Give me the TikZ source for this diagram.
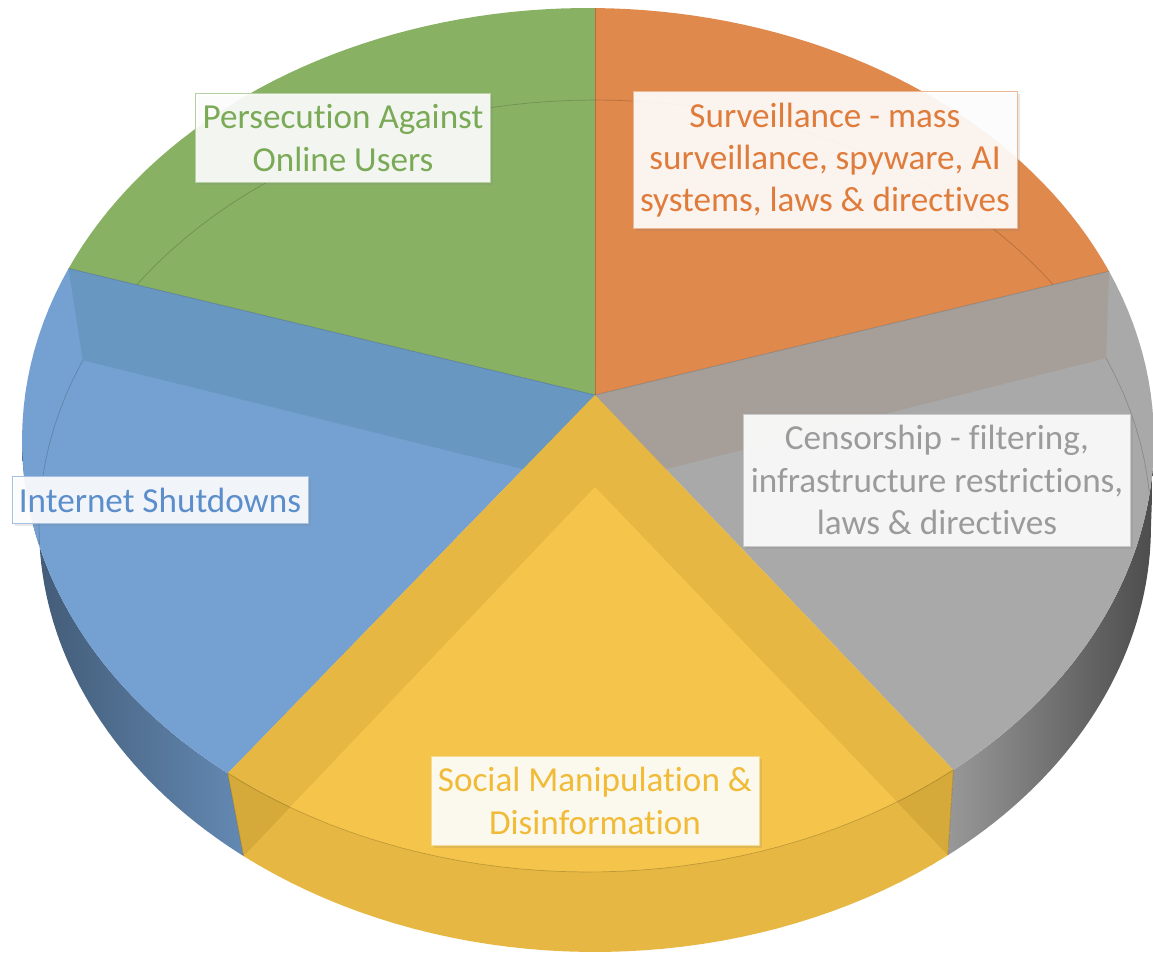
\documentclass[tikz,border=0pt]{standalone}
\usepackage{fontspec}
\setmainfont{Carlito}[Ligatures=NoCommon]
\usepackage{xcolor}
\usetikzlibrary{shadows}

\definecolor{sgreen}{HTML}{89B164}
\definecolor{sorange}{HTML}{DF894C}
\definecolor{sgray}{HTML}{A9A9A9}
\definecolor{sblue}{HTML}{75A1D2}
\definecolor{bandblue}{HTML}{6897C1}
\definecolor{bandgray}{HTML}{A69F99}
\definecolor{ylight}{HTML}{F5C54B}
\definecolor{ydark}{HTML}{E6B843}
\definecolor{ycorner}{HTML}{D5A93A}
\definecolor{tgreen}{HTML}{7BAA57}
\definecolor{torange}{HTML}{E07C3B}
\definecolor{tgray}{HTML}{9B9B9B}
\definecolor{tblue}{HTML}{5B8ECB}
\definecolor{tyellow}{HTML}{F1BB38}

\begin{document}
\begin{tikzpicture}[
  x=0.02cm, y=-0.02cm,
  lbl/.style={draw=#1!55, fill=white, fill opacity=0.9, text opacity=1, text=#1,
              align=center, font=\fontsize{20}{24}\selectfont,
              inner xsep=4pt, inner ysep=6.5pt,
              drop shadow={opacity=0.18, shadow xshift=1.5pt, shadow yshift=-1.5pt}},
  rim/.style={line width=0.4pt, draw=black, draw opacity=0.18},
]
\useasboundingbox (0,0) rectangle (1153,955);

% Points (top face, bottom face)
\coordinate (apex)    at (595,395);
\coordinate (apexlow) at (595,487);
\coordinate (gb)  at (68.5,268.4);   \coordinate (gbl) at (82.8,360.2);
\coordinate (og)  at (1109,271.2);   \coordinate (ogl) at (1106,358.2);
\coordinate (gy)  at (953.4,770);    \coordinate (gyl) at (947.9,855.2);
\coordinate (by)  at (227.7,773.3);  \coordinate (byl) at (243.6,856.1);

% Side walls
\shade[left color=sblue!55!black, right color=sblue!85!black]
  plot[domain=180:129.5, samples=40, variable=\t] ({588+566*cos(\t)},{440+432*sin(\t)})
  -- plot[domain=129.2:180, samples=40, variable=\t] ({595+556*cos(\t)},{526+426*sin(\t)}) -- cycle;
\shade[left color=sgray!90!black, right color=sgray!45!black]
  plot[domain=49.8:0, samples=40, variable=\t] ({588+566*cos(\t)},{440+432*sin(\t)})
  -- plot[domain=0:50.6, samples=40, variable=\t] ({595+556*cos(\t)},{526+426*sin(\t)}) -- cycle;

% Top faces
\fill[sgreen]  (apex) -- plot[domain=203.4:270.7, samples=40, variable=\t] ({588+566*cos(\t)},{440+432*sin(\t)}) -- cycle;
\fill[sorange] (apex) -- plot[domain=270.7:337, samples=40, variable=\t] ({588+566*cos(\t)},{440+432*sin(\t)}) -- cycle;
\fill[sgray]   (apex) -- plot[domain=-23:49.8, samples=40, variable=\t] ({588+566*cos(\t)},{440+432*sin(\t)}) -- cycle;
\fill[sblue]   (apex) -- plot[domain=129.5:203.4, samples=40, variable=\t] ({588+566*cos(\t)},{440+432*sin(\t)}) -- cycle;

% Bottom rim and cut faces seen through
\draw[rim] plot[domain=177.5:355.5, samples=80, variable=\t] ({595+556*cos(\t)},{526+426*sin(\t)});
\fill[bandblue] (gb) -- (apex) -- (apexlow) -- (gbl) -- cycle;
\fill[bandgray] (og) -- (apex) -- (apexlow) -- (ogl) -- cycle;
\draw[rim] (apex) -- (gb);
\draw[rim] (apex) -- (og);
\draw[rim] (apex) -- (595,8);

% Front slice
\fill[ydark] (apex) -- (gy) -- (gyl)
  -- plot[domain=50.6:129.2, samples=40, variable=\t] ({595+556*cos(\t)},{526+426*sin(\t)})
  -- (byl) -- (by) -- cycle;
\begin{scope}
  \clip plot[domain=0:360, samples=90, variable=\t] ({588+566*cos(\t)},{440+432*sin(\t)}) -- cycle;
  \fill[ylight] (apexlow) -- plot[domain=50.6:129.2, samples=40, variable=\t] ({595+556*cos(\t)},{526+426*sin(\t)}) -- cycle;
\end{scope}
\begin{scope}[even odd rule]
  \clip (0,0) rectangle (1153,955)
    plot[domain=0:360, samples=90, variable=\t] ({588+566*cos(\t)},{440+432*sin(\t)}) -- cycle;
  \fill[ycorner] (by) -- (byl) -- (apexlow) -- cycle;
  \fill[ycorner] (gy) -- (gyl) -- (apexlow) -- cycle;
\end{scope}
\draw[rim] plot[domain=49.8:129.5, samples=40, variable=\t] ({588+566*cos(\t)},{440+432*sin(\t)});
\draw[rim] (by) -- (byl);
\draw[rim] (gy) -- (gyl);

% Labels
\node[lbl=tgreen]  (pers) at (343,138) {Persecution Against\\Online Users};
\node[lbl=torange] (surv) at (825,160) {Surveillance - mass\\surveillance, spyware, AI\\systems, laws \& directives};
\node[lbl=tgray]   (cens) at (937,480) {Censorship - filtering,\\infrastructure restrictions,\\laws \& directives};
\node[lbl=tblue]   (shut) at (160,500) {Internet Shutdowns};
\node[lbl=tyellow] (soc)  at (595,801) {Social Manipulation \&\\Disinformation};

\end{tikzpicture}
\end{document}
